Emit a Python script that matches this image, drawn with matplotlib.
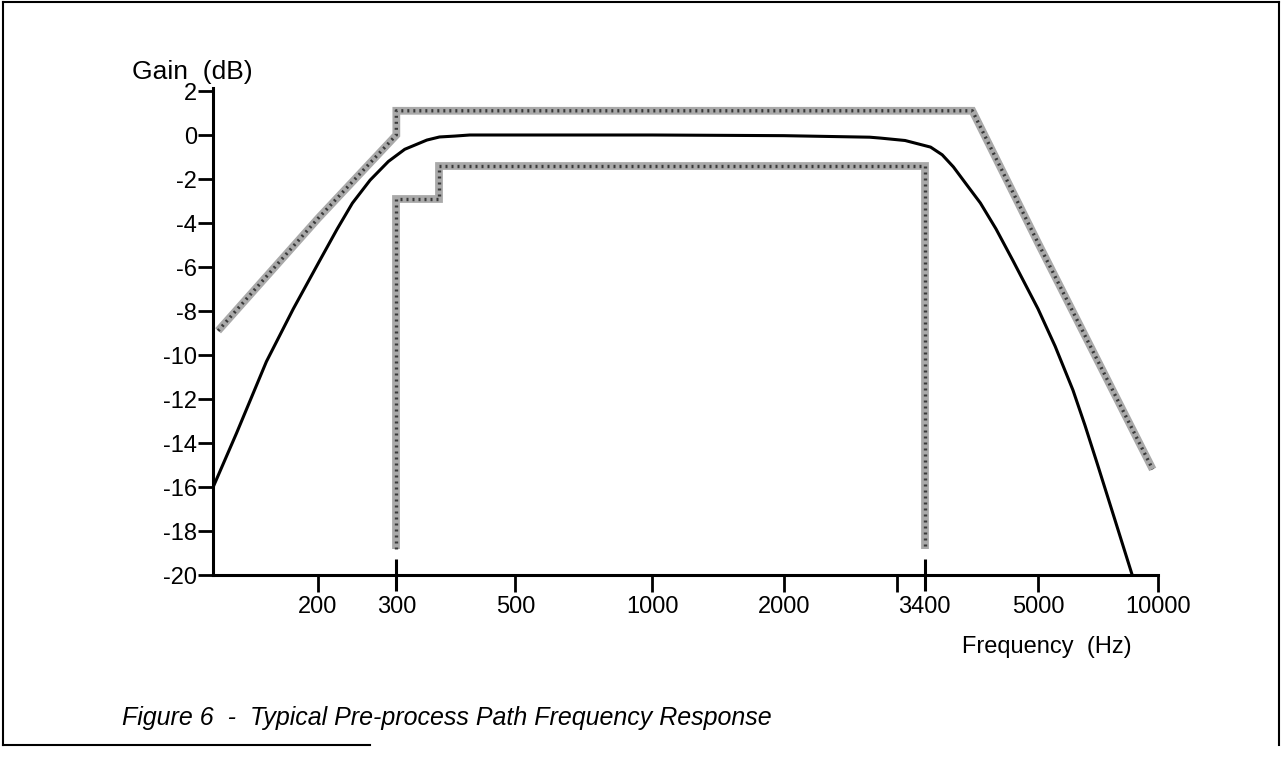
import numpy as np
import matplotlib.pyplot as plt
from matplotlib.lines import Line2D
from matplotlib.ticker import FixedLocator, FixedFormatter, NullLocator

plt.rcParams['font.family'] = ['Liberation Sans', 'DejaVu Sans']

# typical pre-process path response (Hz, dB)
typ_freq = [116, 131, 153, 176, 202, 221, 239, 262, 288, 311, 342, 361, 385, 411,
            1000, 2000, 2720, 2825, 3110, 3470, 3610, 3750, 3910, 4110, 4335, 4590,
            5000, 5520, 6120, 6560, 7030, 7800, 8650]
typ_gain = [-16.0, -13.55, -10.3, -7.9, -5.7, -4.27, -3.1, -2.05, -1.2, -0.65, -0.23,
            -0.09, -0.05, 0.0, 0.0, -0.03, -0.1, -0.14, -0.25, -0.55, -0.9, -1.45, -2.2,
            -3.09, -4.27, -5.7, -7.9, -9.6, -11.6, -13.2, -14.9, -17.5, -20.1]

# upper limit mask
upper_freq = [119, 200, 300, 300, 4000, 5000, 9700]
upper_gain = [-8.9, -3.8, 0.0, 1.1, 1.1, -4.9, -15.2]

# lower limit mask
lower_freq = [300, 300, 360, 360, 3400, 3400]
lower_gain = [-18.8, -2.9, -2.9, -1.4, -1.4, -18.8]

# axis ticks
x_major = [200, 500, 1000, 2000, 3000, 5000, 10000]
x_major_labels = ['200', '500', '1000', '2000', '', '5000', '10000']
x_minor = [300, 3400]
x_minor_labels = ['300', '3400']
y_ticks = list(range(-20, 3, 2))

# the printed frequency axis is only roughly logarithmic:
# fraction of the axis length where each frequency sits
scale_freq = [100, 200, 300, 500, 1000, 2000, 3000, 3400, 5000, 10000, 20000]
scale_pos = [-0.030, 0.111, 0.194, 0.320, 0.465, 0.604, 0.724, 0.753, 0.873, 1.0, 1.127]
log_f = np.log10(scale_freq)


def fwd(x):
    return np.interp(np.log10(np.maximum(x, 1.0)), log_f, scale_pos)


def inv(p):
    return 10 ** np.interp(p, scale_pos, log_f)


W, H = 1282, 757
fig = plt.figure(figsize=(W / 100, H / 100), dpi=100)
ax = fig.add_axes([213 / W, 182 / H, 945 / W, 487.3 / H])
ax.set_xscale('function', functions=(fwd, inv))
ax.set_xlim(inv(0.0), 10000)
ax.set_ylim(-20, 2.15)


def stipple(fx, gy):
    ax.plot(fx, gy, color='#a9a9a9', lw=5.6, solid_joinstyle='miter',
            solid_capstyle='butt', clip_on=False)
    ax.plot(fx, gy, color='#262626', lw=2.4, ls=(0, (0.6, 1.2)), alpha=0.85,
            clip_on=False)


stipple(upper_freq, upper_gain)
stipple(lower_freq, lower_gain)
ax.plot(typ_freq, typ_gain, color='black', lw=2.2, solid_joinstyle='round')

# axes styling
for s in ['top', 'right']:
    ax.spines[s].set_visible(False)
for s in ['left', 'bottom']:
    ax.spines[s].set_linewidth(2.2)
ax.spines['left'].set_bounds(-20, 2.15)

ax.xaxis.set_major_locator(FixedLocator(x_major))
ax.xaxis.set_major_formatter(FixedFormatter(x_major_labels))
ax.xaxis.set_minor_locator(FixedLocator(x_minor))
ax.xaxis.set_minor_formatter(FixedFormatter(x_minor_labels))
ax.set_yticks(y_ticks)
ax.set_yticklabels([str(v) for v in y_ticks])
ax.yaxis.set_minor_locator(NullLocator())

ax.tick_params(axis='y', direction='out', length=10.5, width=2, pad=1, labelsize=17)
ax.tick_params(axis='x', which='major', direction='out', length=12, width=2,
               pad=3, labelsize=17)
ax.tick_params(axis='x', which='minor', direction='inout', length=23, width=2.2,
               pad=3.5, labelsize=17)

# labels
fig.text(132 / W, 1 - 72 / H, 'Gain  (dB)', fontsize=19, va='center')
fig.text(1132 / W, 1 - 647 / H, 'Frequency  (Hz)', fontsize=17,
         ha='right', va='center')
fig.text(122 / W, 1 - 718 / H,
         'Figure 6  -  Typical Pre-process Path Frequency Response',
         fontsize=18, style='italic', va='center')

# page frame
frame = [((3, 3), (2, 745)), ((3, 1279), (2, 2)), ((1279, 1279), (2, 745)),
         ((3, 370), (745, 745))]
for xs, ys in frame:
    fig.add_artist(Line2D([x / W for x in xs], [1 - y / H for y in ys],
                          color='black', lw=1.5, transform=fig.transFigure))

fig.savefig('out.png', dpi=100)
